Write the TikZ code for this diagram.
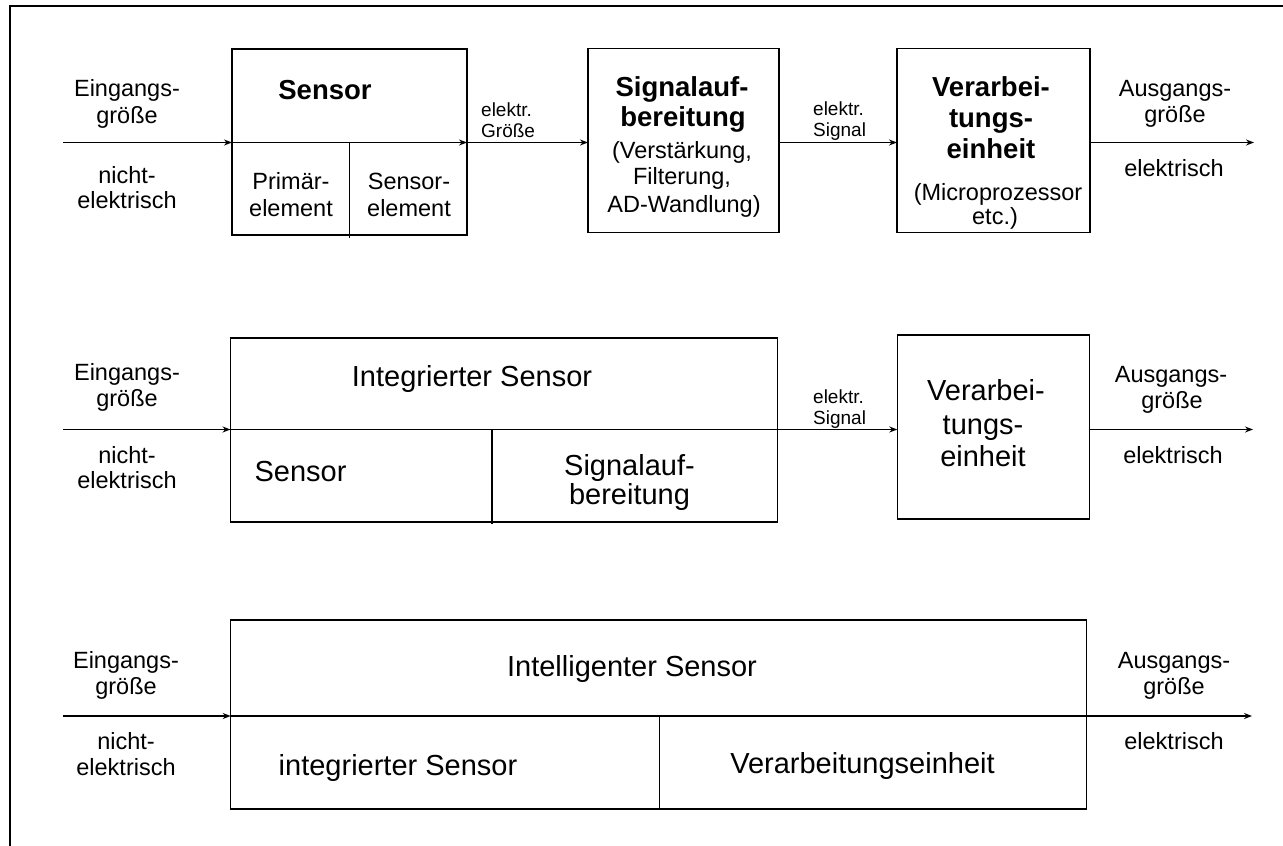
\documentclass[tikz,border=0pt]{standalone}
\usepackage{fontspec}
\setmainfont{Liberation Sans}
\usetikzlibrary{arrows.meta}
\begin{document}
\begin{tikzpicture}[x=1pt,y=-1pt,
  blk/.style={draw, line width=1.5pt, inner sep=0pt, outer sep=0pt},
  arr/.style={line width=1.5pt, -{Stealth[length=8pt,width=6pt]}},
  ln/.style={line width=1.5pt},
  lbl/.style={inner sep=0pt, anchor=base, font=\fontsize{23.5}{28}\selectfont},
  sml/.style={inner sep=0pt, anchor=base west, font=\fontsize{19}{22}\selectfont},
  ttl/.style={inner sep=0pt, anchor=base, font=\fontsize{27.5}{32}\selectfont\bfseries},
  big/.style={inner sep=0pt, anchor=base, font=\fontsize{29}{34}\selectfont},
]
\useasboundingbox (0,0) rectangle (1283,846);
% outer frame
\draw[line width=2pt] (10,846) -- (10,6) -- (1283,6);

% ---------- chain 1: sensor, signal conditioning, processing ----------
\node[blk, minimum width=235pt, minimum height=186pt] (sens) at (349.5,142) {};
\node[blk, minimum width=191pt, minimum height=184pt] (sig) at (683.5,140.6) {};
\node[blk, minimum width=193pt, minimum height=184pt] (ver1) at (993.5,140.6) {};
\coordinate (in1) at (63,142.5);
\coordinate (out1) at (1254,142.5);
\draw[arr] (in1) -- (in1 -| sens.west);
\draw[arr] (in1 -| sens.west) -- (in1 -| sens.east);
\draw[arr] (in1 -| sens.east) -- (in1 -| sig.west);
\draw[arr] (in1 -| sig.east) -- (in1 -| ver1.west);
\draw[arr] (in1 -| ver1.east) -- (out1);
\draw[ln] (in1 -| sens.center) -- ([yshift=-3pt]sens.south);

\node[lbl] (e1a) at (127,96.5) {Eingangs-};
\node[lbl] (e1b) at (127,123) {größe};
\node[lbl] (n1a) at (127,183) {nicht-};
\node[lbl] (n1b) at (127,208) {elektrisch};
\node[ttl] (sensT) at (325,99) {Sensor};
\node[lbl] (pe1) at (291,189) {Primär-};
\node[lbl] (pe2) at (291,216) {element};
\node[lbl] (se1) at (409,189) {Sensor-};
\node[lbl] (se2) at (409,216) {element};
\node[sml] (g1a) at (481,116.5) {elektr.};
\node[sml] (g1b) at (481,137) {Größe};
\node[ttl] (sigT1) at (682,96) {Signalauf-};
\node[ttl] (sigT2) at (683,126) {bereitung};
\node[lbl] (sigS1) at (682,158) {(Verstärkung,};
\node[lbl] (sigS2) at (682,184) {Filterung,};
\node[lbl] (sigS3) at (684,212) {AD-Wandlung)};
\node[sml] (s1a) at (813,115.5) {elektr.};
\node[sml] (s1b) at (813,136.5) {Signal};
\node[ttl] (verT1) at (991,96) {Verarbei-};
\node[ttl] (verT2) at (991,127) {tungs-};
\node[ttl] (verT3) at (991,158) {einheit};
\node[lbl] (verS1) at (998,200) {(Microprozessor};
\node[lbl] (verS2) at (995,224) {etc.)};
\node[lbl] (a1a) at (1175,96) {Ausgangs-};
\node[lbl] (a1b) at (1175,122.5) {größe};
\node[lbl] (a1c) at (1174,176.5) {elektrisch};

% ---------- chain 2: integrated sensor, processing ----------
\node[blk, minimum width=547pt, minimum height=184pt] (integ) at (504,430) {};
\node[blk, minimum width=192pt, minimum height=184pt] (ver2) at (993.3,427.2) {};
\coordinate (in2) at (63,429.5);
\coordinate (out2) at (1253,429.5);
\coordinate (d2) at (492,524);
\draw[arr] (in2) -- (in2 -| integ.west);
\draw[arr] (in2 -| integ.west) -- (in2 -| ver2.west);
\draw[arr] (in2 -| ver2.east) -- (out2);
\draw[ln] (in2 -| d2) -- (d2);

\node[lbl] (e2a) at (127,380) {Eingangs-};
\node[lbl] (e2b) at (127,406.5) {größe};
\node[lbl] (n2a) at (127,463) {nicht-};
\node[lbl] (n2b) at (127,488) {elektrisch};
\node[big] (intT) at (472,386.5) {Integrierter Sensor};
\node[big] (intS) at (300.5,481.5) {Sensor};
\node[big] (intA1) at (629.5,475) {Signalauf-};
\node[big] (intA2) at (629.5,504) {bereitung};
\node[sml] (s2a) at (813,403.5) {elektr.};
\node[sml] (s2b) at (813,424) {Signal};
\node[big] (v2a) at (986,400) {Verarbei-};
\node[big] (v2b) at (983,434) {tungs-};
\node[big] (v2c) at (983,466.5) {einheit};
\node[lbl] (a2a) at (1171,382) {Ausgangs-};
\node[lbl] (a2b) at (1172,408.5) {größe};
\node[lbl] (a2c) at (1173,463.5) {elektrisch};

% ---------- chain 3: intelligent sensor ----------
\node[blk, minimum width=856pt, minimum height=189pt] (intel) at (658.7,714.7) {};
\coordinate (in3) at (63,716);
\coordinate (out3) at (1252,716);
\coordinate (d3) at (659.6,809.3);
\draw[arr] (in3) -- (in3 -| intel.west);
\draw[arr] (in3 -| intel.west) -- (out3);
\draw[ln] (in3 -| d3) -- (d3);

\node[lbl] (e3a) at (126,668) {Eingangs-};
\node[lbl] (e3b) at (126,694.5) {größe};
\node[lbl] (n3a) at (126,749) {nicht-};
\node[lbl] (n3b) at (126,775) {elektrisch};
\node[big] (intlT) at (632,676) {Intelligenter Sensor};
\node[big] (intlS) at (398,775) {integrierter Sensor};
\node[big] (intlV) at (862.5,773) {Verarbeitungseinheit};
\node[lbl] (a3a) at (1174,668) {Ausgangs-};
\node[lbl] (a3b) at (1174,694.5) {größe};
\node[lbl] (a3c) at (1174,749) {elektrisch};
\end{tikzpicture}
\end{document}
